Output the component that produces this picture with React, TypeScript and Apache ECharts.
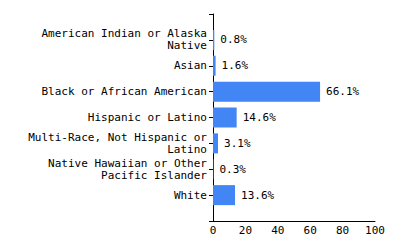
import React, { useEffect, useRef } from "react";
import * as echarts from "echarts";

const categories = [
  "American Indian or Alaska\nNative",
  "Asian",
  "Black or African American",
  "Hispanic or Latino",
  "Multi-Race, Not Hispanic or\nLatino",
  "Native Hawaiian or Other\nPacific Islander",
  "White",
];
const values = [0.8, 1.6, 66.1, 14.6, 3.1, 0.3, 13.6];
const xTicks = { min: 0, max: 100, interval: 20 };

const FONT = "DejaVu Sans Mono";

export default function App() {
  const ref = useRef<HTMLDivElement>(null);
  useEffect(() => {
    if (!ref.current) return;
    const chart = echarts.init(ref.current, undefined, { renderer: "svg" });
    const yData = ["", ...categories, ""];
    const sData: any[] = ["-", ...values, "-"];
    chart.setOption({
      animation: false,
      grid: { left: 213, right: 25, top: 14, bottom: 29, containLabel: false },
      xAxis: {
        type: "value",
        min: xTicks.min,
        max: xTicks.max,
        interval: xTicks.interval,
        axisLine: { show: true, lineStyle: { color: "#000", width: 1 } },
        axisTick: { show: false },
        splitLine: { show: false },
        axisLabel: { fontFamily: FONT, fontSize: 11, color: "#000", margin: 4 },
      },
      yAxis: {
        type: "category",
        data: yData,
        inverse: true,
        boundaryGap: false,
        axisLine: { show: true, lineStyle: { color: "#000", width: 1 } },
        axisTick: { show: true, length: 4, lineStyle: { color: "#000" } },
        splitLine: { show: false },
        axisLabel: {
          fontFamily: FONT,
          fontSize: 11,
          color: "#000",
          margin: 6,
          lineHeight: 12,
          interval: 0,
          align: "right",
        },
      },
      series: [
        {
          type: "bar",
          data: sData,
          barWidth: 20,
          itemStyle: { color: "#4285f4" },
          label: {
            show: true,
            position: "right",
            distance: 6,
            fontFamily: FONT,
            fontSize: 11,
            color: "#000",
            formatter: (p: any) => Number(p.value).toFixed(1) + "%",
          },
        },
      ],
    });
    return () => chart.dispose();
  }, []);
  return (
    <div
      ref={ref}
      style={{ position: "absolute", left: 0, top: 0, width: 400, height: 250 }}
    />
  );
}
